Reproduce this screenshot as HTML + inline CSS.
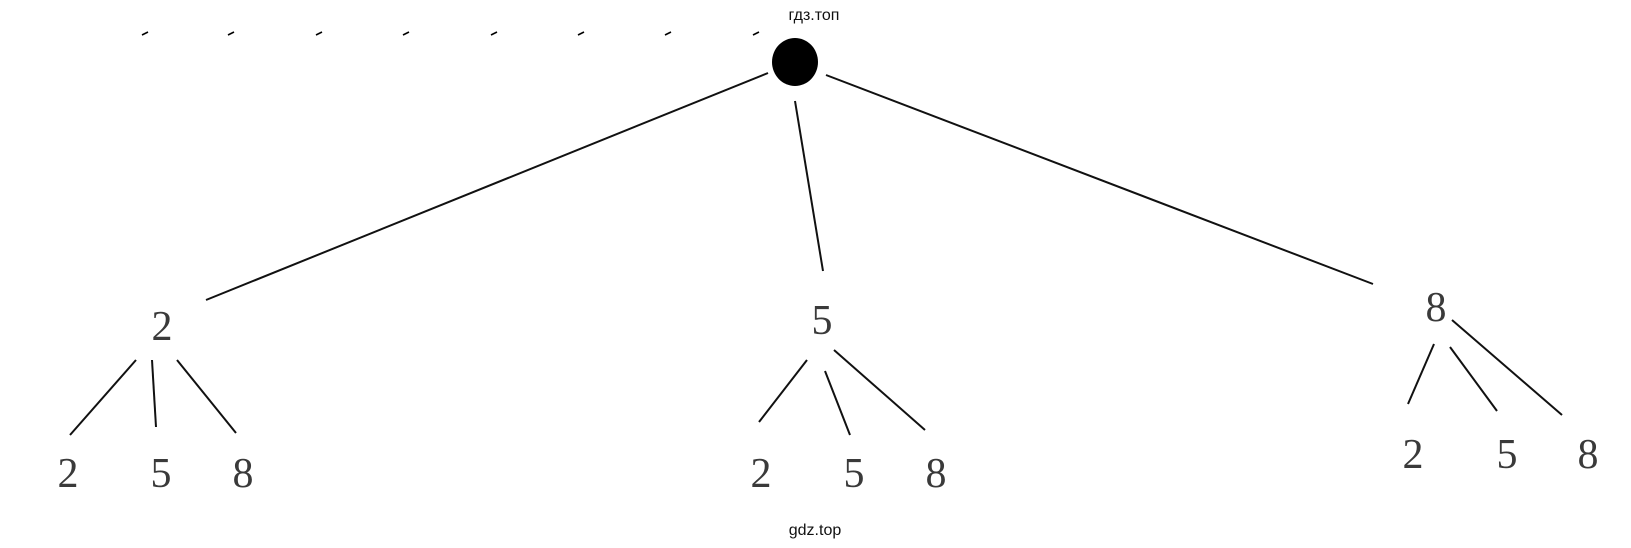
<!DOCTYPE html>
<html><head><meta charset="utf-8"><style>
html,body{margin:0;padding:0;background:#fff;}
svg{display:block;}
.d{font-family:"Liberation Serif",serif;font-size:42px;fill:#3a3a3a;text-anchor:middle;}
.w{font-family:"Liberation Sans",sans-serif;font-size:16px;fill:#111;text-anchor:middle;}
</style></head><body>
<svg width="1631" height="548" viewBox="0 0 1631 548" xmlns="http://www.w3.org/2000/svg">
<text class="w" x="814" y="20">гдз.топ</text>
<text class="w" x="815" y="535">gdz.top</text>
<g stroke="#000" stroke-width="1.6">
<line x1="142" y1="35" x2="148" y2="32"/><line x1="228" y1="35" x2="234" y2="32"/>
<line x1="316" y1="35" x2="322" y2="32"/><line x1="403" y1="35" x2="409" y2="32"/>
<line x1="491" y1="35" x2="497" y2="32"/><line x1="578" y1="35" x2="584" y2="32"/>
<line x1="665" y1="35" x2="671" y2="32"/><line x1="753" y1="35" x2="759" y2="32"/>
</g>
<ellipse cx="795" cy="62" rx="23" ry="24" fill="#000"/>
<g stroke="#111" stroke-width="2" fill="none">
<line x1="768" y1="73" x2="206" y2="300"/>
<line x1="795" y1="101" x2="823" y2="271"/>
<line x1="826" y1="75" x2="1373" y2="284"/>
<line x1="136" y1="360" x2="70" y2="435"/>
<line x1="152" y1="360" x2="156" y2="427"/>
<line x1="177" y1="360" x2="236" y2="433"/>
<line x1="807" y1="360" x2="759" y2="422"/>
<line x1="825" y1="371" x2="850" y2="435"/>
<line x1="834" y1="350" x2="925" y2="430"/>
<line x1="1434" y1="344" x2="1408" y2="404"/>
<line x1="1450" y1="347" x2="1497" y2="411"/>
<line x1="1452" y1="320" x2="1562" y2="415"/>
</g>
<text class="d" x="162" y="340">2</text>
<text class="d" x="822" y="334">5</text>
<text class="d" x="1436" y="321">8</text>
<text class="d" x="68" y="487">2</text>
<text class="d" x="161" y="487">5</text>
<text class="d" x="243" y="487">8</text>
<text class="d" x="761" y="487">2</text>
<text class="d" x="854" y="487">5</text>
<text class="d" x="936" y="487">8</text>
<text class="d" x="1413" y="468">2</text>
<text class="d" x="1507" y="468">5</text>
<text class="d" x="1588" y="468">8</text>
</svg>
</body></html>
